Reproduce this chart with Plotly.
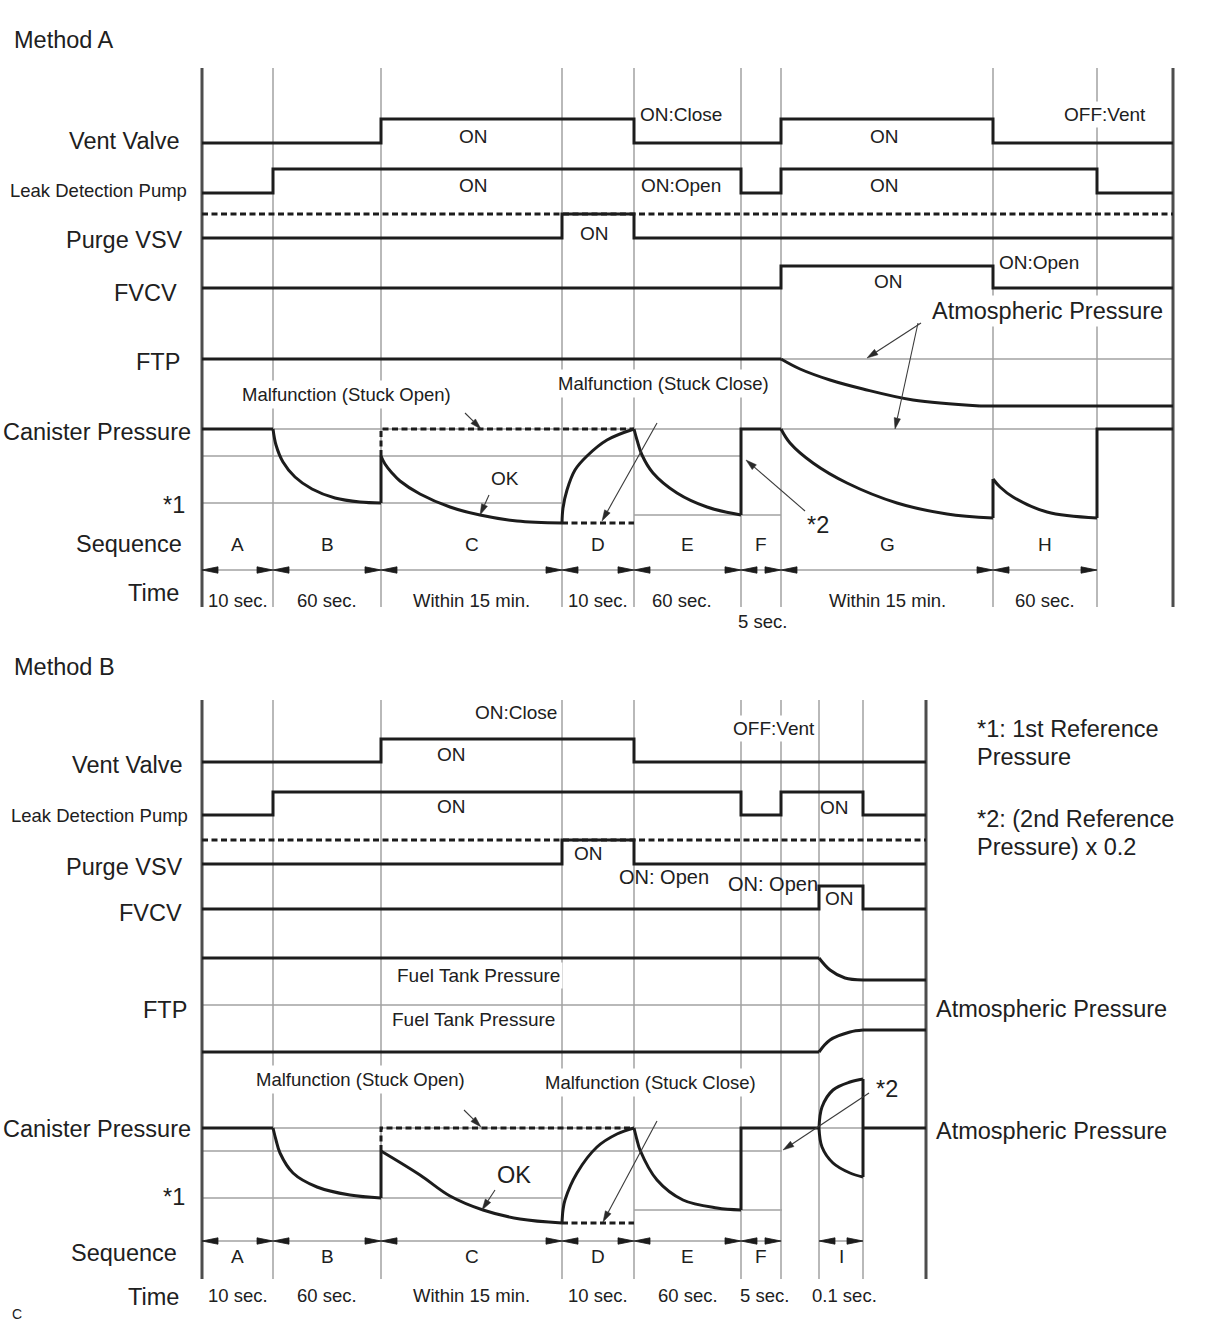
import math
import plotly.graph_objects as go

# ------------------------------------------------------------------
# DATA (schematic timing diagram)
# ------------------------------------------------------------------
# Method A : sequence boundaries on the (schematic) time axis
A_bounds = [202, 273, 381, 562, 634, 741, 781, 993, 1097, 1173]
A_seq = ["A", "B", "C", "D", "E", "F", "G", "H"]
A_time = ["10 sec.", "60 sec.", "Within 15 min.", "10 sec.", "60 sec.",
          "5 sec.", "Within 15 min.", "60 sec."]
# on/off state per segment (A..H + tail)
A_vent = [0, 0, 1, 1, 0, 0, 1, 0, 0]
A_ldp = [0, 1, 1, 1, 1, 0, 1, 1, 0]
A_purge = [0, 0, 0, 1, 0, 0, 0, 0, 0]
A_fvcv = [0, 0, 0, 0, 0, 0, 1, 0, 0]
# signal rows (off level, on level)
A_rows = {"vent": (143, 119), "ldp": (193, 169), "purge": (238, 214), "fvcv": (288, 266)}

# FTP (Method A)
A_ftp_flat_x, A_ftp_flat_y = [202, 781], [359, 359]
A_ftp_curve_x = [781, 800, 830, 863, 913, 980]
A_ftp_curve_y = [359, 369, 380, 389, 400, 406]
A_ftp_tail_x, A_ftp_tail_y = [980, 1173], [406, 406]

# Canister pressure (Method A) curved parts
A_can_curves = [
    ([273, 276, 283, 295, 312, 335, 360, 381], [429, 445, 462, 477, 489, 498, 502, 503]),
    ([381, 385, 392, 400, 420, 450, 480, 517, 562], [456, 464, 473, 481, 494, 507, 515, 521, 523]),
    ([562, 563, 567, 575, 587, 607, 634], [523, 508, 490, 470, 456, 440, 429]),
    ([634, 637, 642, 653, 677, 707, 741], [429, 440, 455, 473, 493, 507, 515]),
    ([781, 790, 813, 847, 897, 947, 993], [429, 443, 463, 483, 503, 514, 518]),
    ([993, 1000, 1013, 1047, 1097], [479, 487, 497, 512, 518]),
]
A_can_line_x = [202, 273, None, 381, 381, None, 741, 741, 781, None, 993, 993, None, 1097, 1097, 1173]
A_can_line_y = [429, 429, None, 503, 456, None, 515, 429, 429, None, 518, 479, None, 518, 429, 429]
A_can_dot_x = [381, 381, 634, None, 562, 634]
A_can_dot_y = [456, 429, 429, None, 523, 523]

# Method B
B_bounds = [202, 273, 381, 562, 634, 741, 781, 819, 863, 926]
B_seq = ["A", "B", "C", "D", "E", "F", "", "I"]
B_time = ["10 sec.", "60 sec.", "Within 15 min.", "10 sec.", "60 sec.",
          "5 sec.", "", "0.1 sec."]
B_vent = [0, 0, 1, 1, 0, 0, 0, 0, 0]
B_ldp = [0, 1, 1, 1, 1, 0, 1, 1, 0]
B_purge = [0, 0, 0, 1, 0, 0, 0, 0, 0]
B_fvcv = [0, 0, 0, 0, 0, 0, 0, 1, 0]
B_rows = {"vent": (762, 739), "ldp": (815, 792), "purge": (864, 840), "fvcv": (909, 886)}

B_ftp_up_flat = ([202, 819], [958, 958])
B_ftp_up_curve = ([819, 830, 845, 863], [958, 970, 978, 980])
B_ftp_up_tail = ([863, 926], [980, 980])
B_ftp_lo_flat = ([202, 819], [1052, 1052])
B_ftp_lo_curve = ([819, 830, 850, 863], [1052, 1040, 1032, 1030])
B_ftp_lo_tail = ([863, 926], [1030, 1030])

B_can_curves = [
    ([273, 276, 280, 293, 317, 350, 381], [1128, 1140, 1153, 1173, 1187, 1195, 1198]),
    ([381, 420, 450, 483, 520, 562], [1151, 1175, 1196, 1210, 1219, 1223]),
    ([562, 563, 565, 577, 597, 617, 634], [1223, 1210, 1200, 1173, 1147, 1134, 1128]),
    ([634, 637, 640, 657, 683, 717, 741], [1128, 1140, 1150, 1180, 1200, 1208, 1210]),
    ([819, 822, 833, 850, 863], [1128, 1107, 1090, 1082, 1079]),
    ([819, 822, 833, 850, 863], [1128, 1147, 1163, 1173, 1177]),
]
B_can_line_x = [202, 273, None, 381, 381, None, 741, 741, 819, None, 863, 863, None, 863, 926]
B_can_line_y = [1128, 1128, None, 1198, 1151, None, 1210, 1128, 1128, None, 1079, 1177, None, 1128, 1128]
B_can_dot_x = [381, 381, 634, None, 562, 634]
B_can_dot_y = [1151, 1128, 1128, None, 1223, 1223]

# ------------------------------------------------------------------
BLACK = "#1c1c1c"
GRAY = "#a2a2a2"
AXIS = "#4d4d4d"
TXT = "#202020"
FONT = "Liberation Sans, Arial, sans-serif"
DOT = "6px,3.5px"
BIG = 23.5
MID = 19
SMALL = 18.5

fig = go.Figure()


def line(xs, ys, color=BLACK, width=3, dash=None, shape="linear"):
    fig.add_trace(go.Scatter(x=xs, y=ys, mode="lines",
                             line=dict(color=color, width=width, dash=dash, shape=shape),
                             hoverinfo="skip", showlegend=False))


def txt(x, y, s, size=MID, xanchor="center", bg=None, pad=2):
    fig.add_annotation(x=x, y=y, text=s, showarrow=False, xanchor=xanchor, yanchor="middle",
                       font=dict(family=FONT, size=size, color=TXT),
                       bgcolor=bg if bg else "rgba(0,0,0,0)", borderpad=pad)


def pointer(tail, tip, L=11, w=3.2):
    dx, dy = tip[0] - tail[0], tip[1] - tail[1]
    d = math.hypot(dx, dy)
    ux, uy = dx / d, dy / d
    bx, by = tip[0] - L * ux, tip[1] - L * uy
    line([tail[0], bx], [tail[1], by], color="#3a3a3a", width=1.1)
    fig.add_trace(go.Scatter(x=[tip[0], bx - w * uy, bx + w * uy, tip[0]],
                             y=[tip[1], by + w * ux, by - w * ux, tip[1]],
                             mode="lines", fill="toself", fillcolor="#2a2a2a",
                             line=dict(color="#2a2a2a", width=0.5),
                             hoverinfo="skip", showlegend=False))


def dim_arrows(pairs, y, L=16, h=3.2):
    xs, ys = [], []
    for a, b in pairs:
        xs += [a, a + L, a + L, a, None]
        ys += [y, y - h, y + h, y, None]
        xs += [b, b - L, b - L, b, None]
        ys += [y, y - h, y + h, y, None]
    fig.add_trace(go.Scatter(x=xs, y=ys, mode="lines", fill="toself", fillcolor=BLACK,
                             line=dict(color=BLACK, width=0.8),
                             hoverinfo="skip", showlegend=False))


def steps(bounds, states, row):
    lo, hi = row
    ys = [hi if s else lo for s in states]
    line(bounds, ys + [ys[-1]], shape="hv")


# ================== METHOD A ==================
topA, botA = 68, 607
for xb in A_bounds[1:-1]:
    line([xb, xb], [topA, botA], color=GRAY, width=1.5)
line([781, 1173], [359, 359], color=GRAY, width=1.5)
line([202, 1173], [429, 429], color=GRAY, width=1.5)
line([202, 741], [456, 456], color=GRAY, width=1.5)
line([202, 562], [503, 503], color=GRAY, width=1.5)
line([634, 781], [515, 515], color=GRAY, width=1.5)
line([202, 1097], [570, 570], color=GRAY, width=1.5)
line([202, 202], [topA, botA], color=AXIS, width=3)
line([1173, 1173], [topA, botA], color=AXIS, width=3)
line([202, 1173], [A_rows["purge"][1]] * 2, dash=DOT)
steps(A_bounds, A_vent, A_rows["vent"])
steps(A_bounds, A_ldp, A_rows["ldp"])
steps(A_bounds, A_purge, A_rows["purge"])
steps(A_bounds, A_fvcv, A_rows["fvcv"])
line(A_ftp_flat_x, A_ftp_flat_y)
line(A_ftp_curve_x, A_ftp_curve_y, shape="spline")
line(A_ftp_tail_x, A_ftp_tail_y)
line(A_can_line_x, A_can_line_y)
for cx, cy in A_can_curves:
    line(cx, cy, shape="spline")
line(A_can_dot_x, A_can_dot_y, dash=DOT)
dim_arrows(list(zip(A_bounds[:-2], A_bounds[1:-1])), 570)

pointer((465, 413), (481, 429))
pointer((489, 495), (480, 515))
pointer((657, 423), (602, 521))
pointer((805, 511), (746, 460))
pointer((921, 323), (867, 358))
pointer((918, 323), (895, 429))

txt(11, 40, "Method A", size=BIG, xanchor="left")
for s, y, sz, xr in [("Vent Valve", 141, BIG, 183), ("Leak Detection Pump", 190, SMALL, 190),
                     ("Purge VSV", 240, BIG, 186), ("FVCV", 293, BIG, 180), ("FTP", 362, BIG, 183),
                     ("Canister Pressure", 432, BIG, 194), ("*1", 505, BIG, 188),
                     ("Sequence", 544, BIG, 185), ("Time", 593, BIG, 182)]:
    txt(xr, y, s, size=sz, xanchor="right")

for i, s in enumerate(A_seq):
    txt((A_bounds[i] + A_bounds[i + 1]) / 2, 544, s)
for i, s in enumerate(A_time):
    cx = (A_bounds[i] + A_bounds[i + 1]) / 2
    if s == "5 sec.":
        txt(cx + 1, 621, s, size=SMALL)
    elif i == 4:
        txt(cx - 6, 600, s, size=SMALL)
    else:
        txt(cx, 600, s, size=SMALL)

txt(473, 136, "ON")
txt(637, 114, "ON:Close", xanchor="left")
txt(884, 136, "ON")
txt(1105, 114, "OFF:Vent", bg="white")
txt(473, 185, "ON")
txt(638, 185, "ON:Open", xanchor="left")
txt(884, 185, "ON")
txt(594, 233, "ON")
txt(888, 281, "ON")
txt(996, 262, "ON:Open", xanchor="left")
txt(1047, 311, "Atmospheric Pressure", size=BIG, bg="white")
txt(346, 394, "Malfunction (Stuck Open)", size=SMALL, bg="white", pad=3)
txt(663, 383, "Malfunction (Stuck Close)", size=SMALL, bg="white", pad=3)
txt(505, 478, "OK")
txt(818, 525, "*2", size=BIG)

# ================== METHOD B ==================
topB, botB = 700, 1279
for xb in B_bounds[1:-1]:
    line([xb, xb], [topB, botB], color=GRAY, width=1.5)
line([202, 926], [1005, 1005], color=GRAY, width=1.5)
line([202, 926], [1128, 1128], color=GRAY, width=1.5)
line([202, 782], [1151, 1151], color=GRAY, width=1.5)
line([202, 562], [1198, 1198], color=GRAY, width=1.5)
line([634, 782], [1210, 1210], color=GRAY, width=1.5)
line([202, 782], [1241, 1241], color=GRAY, width=1.5)
line([819, 863], [1241, 1241], color=GRAY, width=1.5)
line([202, 202], [topB, botB], color=AXIS, width=3)
line([926, 926], [topB, botB], color=AXIS, width=3)

line([202, 926], [B_rows["purge"][1]] * 2, dash=DOT)
steps(B_bounds, B_vent, B_rows["vent"])
steps(B_bounds, B_ldp, B_rows["ldp"])
steps(B_bounds, B_purge, B_rows["purge"])
steps(B_bounds, B_fvcv, B_rows["fvcv"])

for part in (B_ftp_up_flat, B_ftp_up_tail, B_ftp_lo_flat, B_ftp_lo_tail):
    line(part[0], part[1])
for part in (B_ftp_up_curve, B_ftp_lo_curve):
    line(part[0], part[1], shape="spline")

line(B_can_line_x, B_can_line_y)
for cx, cy in B_can_curves:
    line(cx, cy, shape="spline")
line(B_can_dot_x, B_can_dot_y, dash=DOT)

B_pairs = [(B_bounds[i], B_bounds[i + 1]) for i in range(len(B_seq)) if B_seq[i]]
dim_arrows(B_pairs, 1241)

pointer((464, 1110), (481, 1127))
pointer((495, 1190), (482, 1210))
pointer((657, 1121), (603, 1222))
pointer((869, 1093), (783, 1150))

txt(11, 667, "Method B", size=BIG, xanchor="left")
for s, y, sz, xr in [("Vent Valve", 765, BIG, 186), ("Leak Detection Pump", 815, SMALL, 191),
                     ("Purge VSV", 867, BIG, 186), ("FVCV", 913, BIG, 185), ("FTP", 1010, BIG, 190),
                     ("Canister Pressure", 1129, BIG, 194), ("*1", 1197, BIG, 188),
                     ("Sequence", 1253, BIG, 180), ("Time", 1297, BIG, 182)]:
    txt(xr, y, s, size=sz, xanchor="right")

for i, s in enumerate(B_seq):
    if s:
        txt((B_bounds[i] + B_bounds[i + 1]) / 2, 1256, s)
for i, s in enumerate(B_time):
    if s:
        cx = (B_bounds[i] + B_bounds[i + 1]) / 2
        txt(cx + (3 if i >= 5 else 0), 1295, s, size=SMALL)

txt(516, 712, "ON:Close", bg="white")
txt(451, 754, "ON")
txt(774, 728, "OFF:Vent", bg="white")
txt(451, 806, "ON")
txt(834, 807, "ON")
txt(588, 853, "ON")
txt(664, 877, "ON: Open", size=20)
txt(773, 884, "ON: Open", size=20)
txt(839, 898, "ON")
txt(478, 975, "Fuel Tank Pressure", size=MID, bg="white")
txt(473, 1019, "Fuel Tank Pressure", size=MID, bg="white")
txt(933, 1009, "Atmospheric Pressure", size=BIG, xanchor="left")
txt(933, 1131, "Atmospheric Pressure", size=BIG, xanchor="left")
txt(360, 1079, "Malfunction (Stuck Open)", size=SMALL, bg="white", pad=3)
txt(650, 1082, "Malfunction (Stuck Close)", size=SMALL, bg="white", pad=3)
txt(514, 1175, "OK", size=BIG)
txt(887, 1089, "*2", size=BIG)

txt(974, 729, "*1: 1st Reference", size=BIG, xanchor="left")
txt(974, 757, "Pressure", size=BIG, xanchor="left")
txt(974, 819, "*2: (2nd Reference", size=BIG, xanchor="left")
txt(974, 847, "Pressure) x 0.2", size=BIG, xanchor="left")
txt(9, 1314, "C", size=14, xanchor="left")

fig.update_layout(
    width=1210, height=1328, margin=dict(l=0, r=0, t=0, b=0),
    paper_bgcolor="white", plot_bgcolor="white", showlegend=False,
    xaxis=dict(range=[0, 1210], visible=False, fixedrange=True),
    yaxis=dict(range=[1328, 0], visible=False, fixedrange=True),
)

fig.write_html("out.html", config={"displayModeBar": False, "staticPlot": True},
               post_script="document.body.style.margin='0';document.body.style.overflow='hidden';")
